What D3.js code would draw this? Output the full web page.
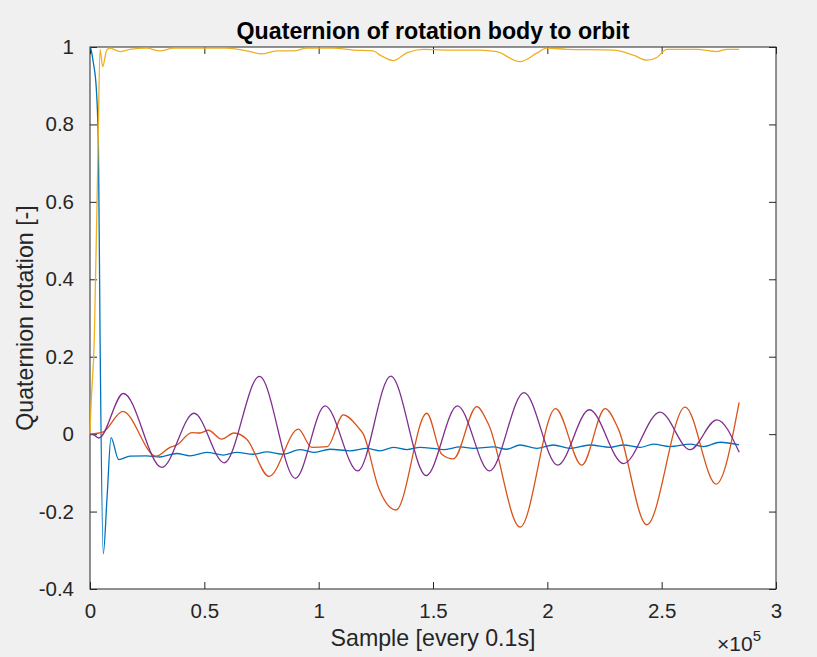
<!DOCTYPE html>
<html><head><meta charset="utf-8">
<script src="https://cdn.jsdelivr.net/npm/d3@7"></script>
<style>
body{margin:0;background:#f0f0f0;}
svg{display:block;font-family:"Liberation Sans",Arial,Helvetica,sans-serif;}
</style>
</head><body>
<svg id="chart" width="817" height="657"></svg>
<script>
// ---- data (sample index, quaternion component) ----
const titleText = "Quaternion of rotation body to orbit";
const xLabelText = "Sample [every 0.1s]";
const yLabelText = "Quaternion rotation [-]";
const xTicks = [0, 50000, 100000, 150000, 200000, 250000, 300000];
const xTickLabels = ["0", "0.5", "1", "1.5", "2", "2.5", "3"];
const yTicks = [-0.4, -0.2, 0, 0.2, 0.4, 0.6, 0.8, 1];
const yTickLabels = ["-0.4", "-0.2", "0", "0.2", "0.4", "0.6", "0.8", "1"];
const seriesColors = ["#0072BD", "#D95319", "#EDB120", "#7E2F8E"];

const q1 = [[0,1.0],[300,0.997],[1450,0.96],[2800,0.889],[3700,0.735],[4400,0.25],[5800,-0.309],[7500,-0.159],[9190,-0.009],[12550,-0.066],
  [17500,-0.057],[24800,-0.056],[30620,-0.059],[37920,-0.050],[43740,-0.056],[51040,-0.047],[58300,-0.054],[64170,-0.047],[71430,-0.052],
  [77290,-0.046],[84550,-0.052],[91850,-0.040],[97670,-0.047],[104980,-0.039],[113720,-0.043],[121030,-0.037],[126850,-0.043],[132670,-0.034],
  [138520,-0.040],[144340,-0.034],[150160,-0.037],[154530,-0.040],[161840,-0.033],[167660,-0.037],[176410,-0.033],[182260,-0.039],[188080,-0.028],
  [195390,-0.037],[202650,-0.028],[209950,-0.037],[218700,-0.028],[227450,-0.034],[233270,-0.028],[240570,-0.034],[246390,-0.026],[253690,-0.032],
  [262440,-0.026],[268260,-0.032],[275560,-0.021],[283870,-0.028]];

const q2 = [[0,0],[5820,0.006],[14300,0.059],[28870,-0.057],[34990,-0.034],[37920,-0.028],[44480,0.004],[48110,0.003],[51740,0.010],
  [57600,-0.013],[62990,0.003],[68540,-0.013],[78290,-0.109],[91110,0.013],[96970,-0.034],[103800,-0.032],[110790,0.050],[117350,0.017],
  [119540,0],[126100,-0.137],[133840,-0.196],[147270,0.054],[153830,-0.052],[158900,-0.064],[169140,0.071],[174220,0.026],[188080,-0.240],
  [203600,0.066],[215070,-0.080],[225260,0.066],[231080,0.013],[243500,-0.234],[260250,0.070],[273810,-0.129],[283870,0.082]];

const q3 = [[0,0],[440,0.072],[1880,0.245],[3500,0.735],[4370,0.994],[5550,0.949],[7300,0.992],[8750,0.997],[13120,0.988],[17500,0.994],
  [24800,0.997],[30620,0.990],[36440,0.997],[49560,0.997],[59800,0.997],[68540,0.990],[75100,0.982],[81660,0.990],[88920,0.990],[94790,0.997],
  [106290,0.997],[115040,0.992],[123790,0.990],[126850,0.979],[132670,0.965],[138520,0.985],[145790,0.994],[156020,0.992],[170590,0.992],
  [177890,0.988],[188080,0.962],[195390,0.984],[199760,0.997],[208510,0.994],[228890,0.992],[237640,0.979],[243500,0.966],[247870,0.973],
  [252250,0.994],[265370,0.994],[274110,0.988],[278490,0.994],[283870,0.994]];

const q4 = [[0,0],[1700,-0.002],[3900,-0.010],[14600,0.105],[31400,-0.086],[45500,0.054],[58700,-0.074],[74100,0.149],[89800,-0.114],
  [102800,0.073],[117100,-0.095],[131500,0.150],[147000,-0.107],[160700,0.073],[174700,-0.095],[189800,0.107],[204500,-0.080],[218400,0.063],
  [233300,-0.076],[249300,0.057],[262400,-0.040],[274100,0.037],[283900,-0.047]];

const series = [q1, q2, q3, q4];

// ---- layout ----
const svg = d3.select("#chart");
const W = 817, H = 657;
const L = 90, R = 776, T = 47, B = 589;
svg.append("rect").attr("width", W).attr("height", H).attr("fill", "#f0f0f0");

const x = d3.scaleLinear().domain([0, 300000]).range([L, R]);
const y = d3.scaleLinear().domain([-0.4, 1]).range([B, T]);

svg.append("rect").attr("x", L).attr("y", T).attr("width", R - L).attr("height", B - T).attr("fill", "#ffffff");

const axisColor = "#262626";
const tickLen = 7;
const fmtX = (d, i) => xTickLabels[i];
const fmtY = (d, i) => yTickLabels[i];

const gx = svg.append("g").attr("transform", `translate(0,${B})`)
  .call(d3.axisBottom(x).tickValues(xTicks).tickFormat(fmtX).tickSizeInner(-tickLen).tickSizeOuter(0).tickPadding(14));
const gxTop = svg.append("g").attr("transform", `translate(0,${T})`)
  .call(d3.axisTop(x).tickValues(xTicks).tickFormat("").tickSizeInner(-tickLen).tickSizeOuter(0));
const gy = svg.append("g").attr("transform", `translate(${L},0)`)
  .call(d3.axisLeft(y).tickValues(yTicks).tickFormat(fmtY).tickSizeInner(-tickLen).tickSizeOuter(0).tickPadding(16));
const gyR = svg.append("g").attr("transform", `translate(${R},0)`)
  .call(d3.axisRight(y).tickValues(yTicks).tickFormat("").tickSizeInner(-tickLen).tickSizeOuter(0));

[gx, gxTop, gy, gyR].forEach(g => {
  g.select(".domain").remove();
  g.selectAll(".tick line").attr("stroke", axisColor).attr("stroke-width", 1);
  g.selectAll(".tick text").attr("fill", axisColor).style("font-size", "20.5px").style("font-family", "Liberation Sans, Arial, sans-serif");
});

svg.append("rect").attr("x", L).attr("y", T).attr("width", R - L).attr("height", B - T)
  .attr("fill", "none").attr("stroke", axisColor).attr("stroke-width", 1);

// ---- lines ----
const line = d3.line().x(d => x(d[0])).y(d => y(d[1])).curve(d3.curveMonotoneX);
series.forEach((s, i) => {
  svg.append("path").datum(s).attr("d", line).attr("fill", "none")
    .attr("stroke", seriesColors[i]).attr("stroke-width", 1.3).attr("stroke-linejoin", "round");
});

// ---- text ----
svg.append("text").attr("x", (L + R) / 2).attr("y", 39).attr("text-anchor", "middle")
  .style("font-size", "23.2px").style("font-weight", "bold").attr("fill", "#000").text(titleText);
svg.append("text").attr("x", (L + R) / 2).attr("y", 646).attr("text-anchor", "middle")
  .style("font-size", "23.2px").attr("fill", axisColor).text(xLabelText);
svg.append("text").attr("transform", `translate(33,${(T + B) / 2}) rotate(-90)`).attr("text-anchor", "middle")
  .style("font-size", "23.2px").attr("fill", axisColor).text(yLabelText);

const exp = svg.append("text").attr("x", 717).attr("y", 651).style("font-size", "21px").attr("fill", axisColor);
exp.append("tspan").text("×10");
exp.append("tspan").attr("dy", -10).style("font-size", "15px").text("5");
</script>
</body></html>
